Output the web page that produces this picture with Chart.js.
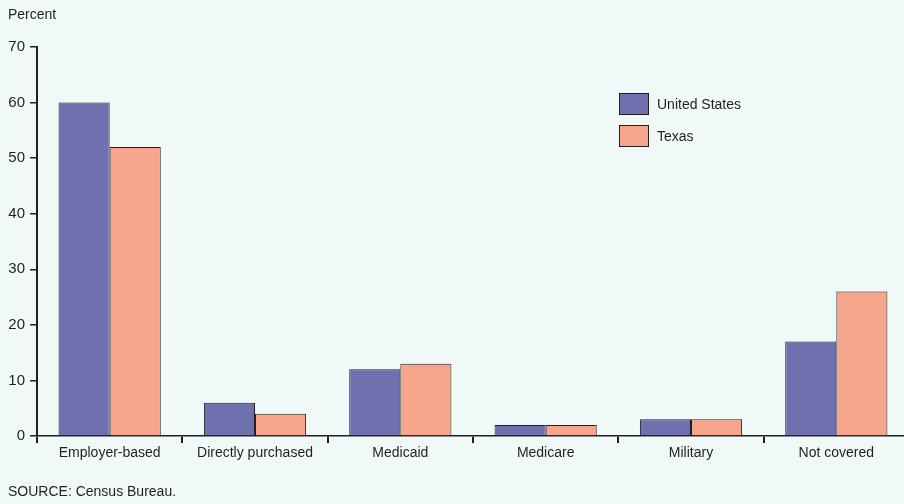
<!DOCTYPE html>
<html>
<head>
<meta charset="utf-8">
<script src="https://cdn.jsdelivr.net/npm/chart.js@4/dist/chart.umd.min.js"></script>
<style>
html,body{margin:0;padding:0;background:#f1f9f8;overflow:hidden;}
#wrap{position:relative;width:904px;height:504px;overflow:hidden;}
canvas{display:block;}
</style>
</head>
<body>
<div id="wrap"><canvas id="c" width="909" height="504"></canvas></div>
<script>
const categories = ["Employer-based","Directly purchased","Medicaid","Medicare","Military","Not covered"];
const unitedStates = [60, 6, 12, 2, 3, 17];
const texas = [52, 4, 13, 2, 3, 26];
const yTicks = [0, 10, 20, 30, 40, 50, 60, 70];
const seriesNames = ["United States", "Texas"];
const yTitle = "Percent";
const sourceNote = "SOURCE: Census Bureau.";

const FONT = "'Liberation Sans Narrow', 'Arial Narrow', 'Liberation Sans', sans-serif";
const TXT = "#231f20";

const overlay = {
  id: 'overlay',
  afterDraw(chart) {
    const ctx = chart.ctx;
    ctx.save();
    ctx.font = "14px " + FONT;
    ctx.fillStyle = TXT;
    ctx.textBaseline = 'middle';
    ctx.textAlign = 'left';
    ctx.fillText(yTitle, 8, 15);
    ctx.fillText(sourceNote, 8, 492);
    const ys = [104, 136];
    chart.data.datasets.forEach((ds, i) => {
      ctx.fillStyle = ds.backgroundColor;
      ctx.fillRect(619.5, ys[i] - 10.5, 29, 21);
      ctx.strokeStyle = "#231f20";
      ctx.lineWidth = 1;
      ctx.strokeRect(619.5, ys[i] - 10.5, 29, 21);
      ctx.fillStyle = TXT;
      ctx.fillText(ds.label, 657, ys[i] + 1);
    });
    ctx.restore();
  }
};

new Chart(document.getElementById('c'), {
  type: 'bar',
  data: {
    labels: categories,
    datasets: [
      { label: seriesNames[0], data: unitedStates, backgroundColor: "#6f70ae", borderColor: "#231f20", borderWidth: 1 },
      { label: seriesNames[1], data: texas, backgroundColor: "#f6a68c", borderColor: "#231f20", borderWidth: 1 }
    ]
  },
  options: {
    responsive: false,
    animation: false,
    devicePixelRatio: 1,
    layout: { padding: { top: 47, left: 0, right: 0, bottom: 0 } },
    plugins: { legend: { display: false }, tooltip: { enabled: false } },
    datasets: { bar: { categoryPercentage: 0.703, barPercentage: 1.0 } },
    scales: {
      x: {
        grid: { offset: true, drawOnChartArea: false, drawTicks: true, tickLength: 7, color: "#231f20", lineWidth: 2 },
        border: { display: true, color: "#231f20", width: 1.5 },
        ticks: { color: TXT, font: { family: FONT, size: 14 }, padding: 2, maxRotation: 0 },
        afterFit(s) { s.height = 68; }
      },
      y: {
        min: 0, max: 70,
        afterBuildTicks(s) { s.ticks = yTicks.map(v => ({ value: v })); },
        grid: { drawOnChartArea: false, drawTicks: true, tickLength: 7, color: "#231f20", lineWidth: 1.5 },
        border: { display: true, color: "#231f20", width: 2 },
        ticks: { color: TXT, font: { family: FONT, size: 15 }, padding: 5 },
        afterFit(s) { s.width = 37; }
      }
    }
  },
  plugins: [overlay]
});
</script>
</body>
</html>
